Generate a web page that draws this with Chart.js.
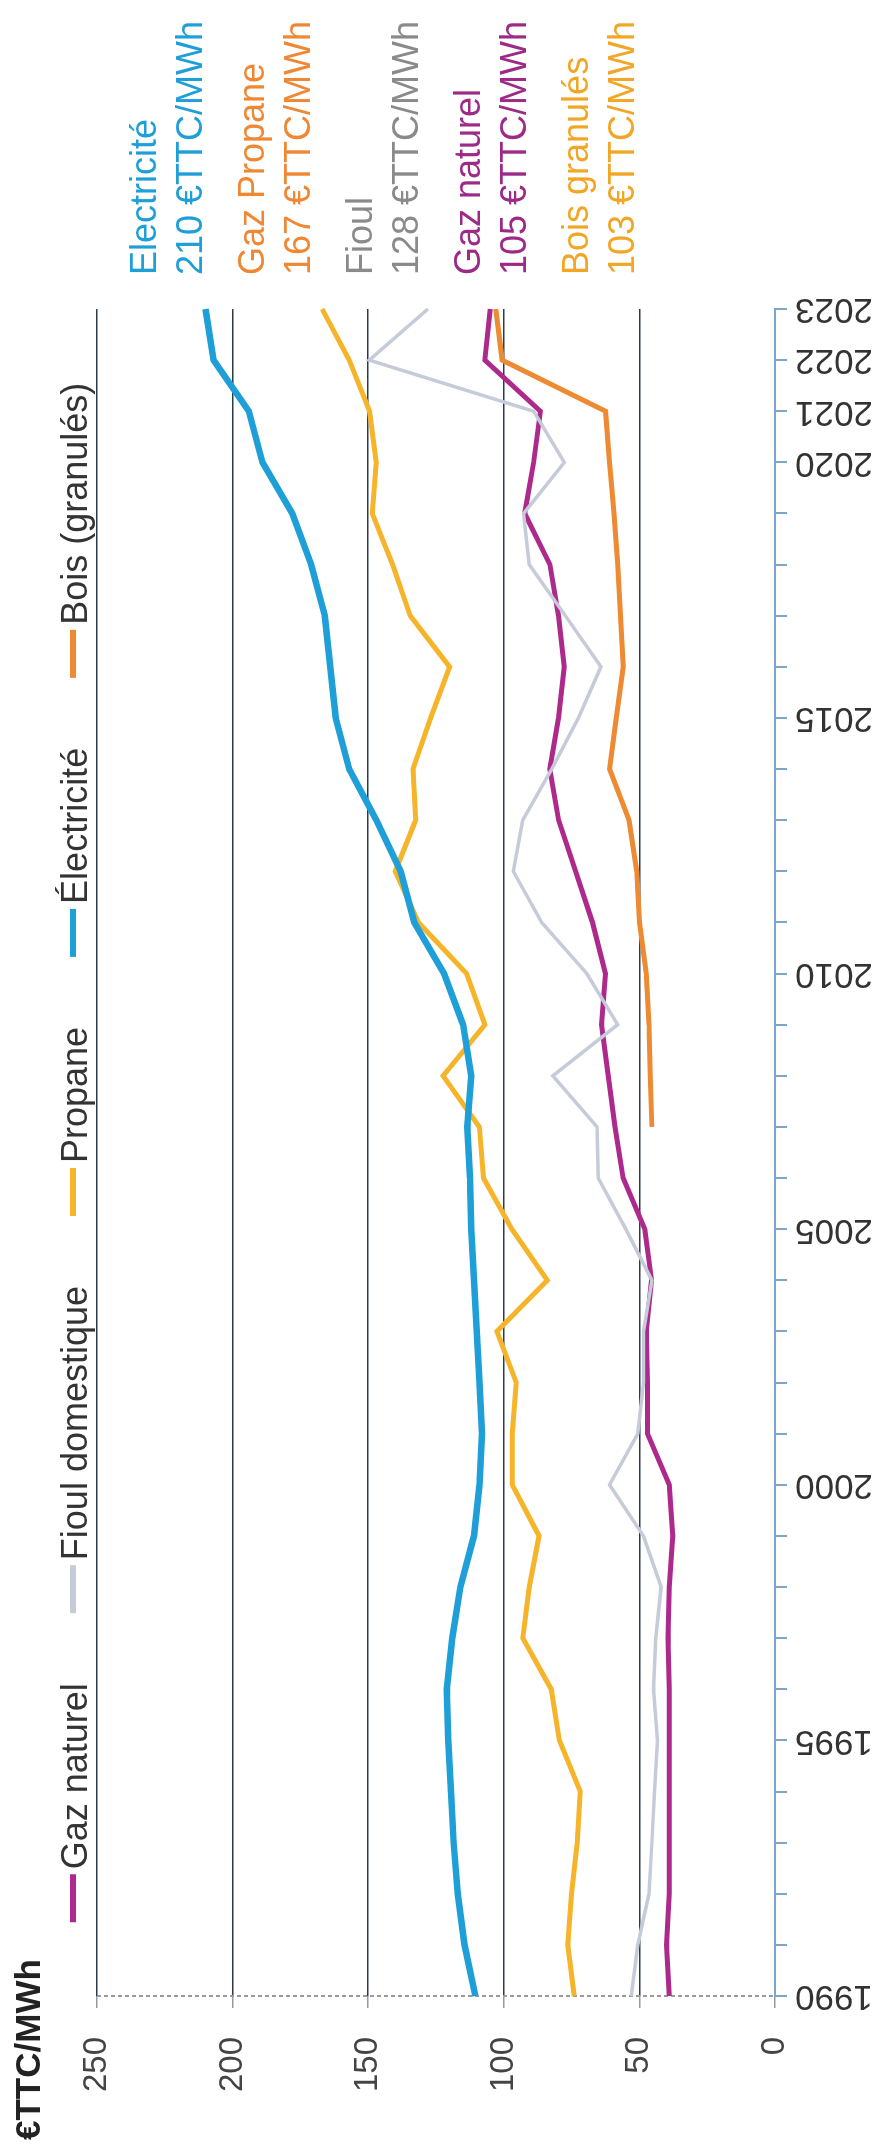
<!DOCTYPE html>
<html lang="fr">
<head>
<meta charset="utf-8">
<title>Prix des énergies 1990-2023</title>
<script src="https://cdn.jsdelivr.net/npm/chart.js@4.4.1/dist/chart.umd.min.js"></script>
<style>
  html, body { margin: 0; padding: 0; width: 885px; height: 2152px; overflow: hidden; background: #fff; }
  /* the chart is drawn landscape, then turned a quarter left like the scan */
  #wrap { position: absolute; left: 0; top: 0; width: 2152px; height: 885px;
          transform-origin: 0 0; transform: translate(0, 2152px) rotate(-90deg); }
</style>
</head>
<body>
<div id="wrap"><canvas id="chart" width="2152" height="885"></canvas></div>
<script>
// Data (€TTC/MWh)
const years = [1990, 1991, 1992, 1993, 1994, 1995, 1996, 1997, 1998, 1999,
               2000, 2001, 2002, 2003, 2004, 2005, 2006, 2007, 2008, 2009,
               2010, 2011, 2012, 2013, 2014, 2015, 2016, 2017, 2018, 2019,
               2020, 2021, 2022, 2023];
const labeledYears = [1990, 1995, 2000, 2005, 2010, 2015, 2020, 2021, 2022, 2023];

const gazNaturel = [39, 40, 39, 39, 39, 39, 39, 39.5, 39, 37.7,
                    39, 47, 47, 47.5, 45.5, 48, 56, 59, 61.5, 64,
                    62.5, 67.3, 73.5, 79.8, 83, 79.8, 77.7, 79.8, 83, 92.3,
                    89, 86.5, 107, 105];
const fioul = [53, 50.6, 46.5, 45.4, 44.4, 43.3, 44.8, 44, 42, 48.5,
               61, 50.6, 48.5, 48.5, 45.4, 55, 65.2, 65.6, 81.9, 58,
               69.4, 86, 96.5, 93, 82.3, 72.5, 64.2, 77.3, 90.6, 92.7,
               77.7, 89, 149.6, 128];
const propane = [74, 76.4, 75, 72.9, 71.8, 79.5, 82.5, 93, 90.6, 87,
                 96.9, 96.9, 95.4, 102.5, 84, 97, 107.5, 109, 122.4, 107,
                 113.7, 131.5, 140, 132.5, 133.5, 127, 120, 134.5, 141, 148.5,
                 147, 149.5, 157, 167];
const electricite = [110.5, 114.5, 117, 118.5, 119.5, 120.5, 121, 119, 116, 111,
                     109, 108, 109, 110, 111, 112, 112.5, 113.5, 112, 115,
                     122, 133, 138, 147, 157, 162, 164, 166, 171, 178,
                     189, 194, 207, 210];
const bois = [null, null, null, null, null, null, null, null, null, null,
              null, null, null, null, null, null, null, 45.4, 46, 46.5,
              47.5, 50, 51, 53.8, 61, 58.5, 56, 57, 58, 59.4,
              61, 62.5, 100.6, 103];

const seriesNames = ['Gaz naturel', 'Fioul domestique', 'Propane', 'Électricité', 'Bois (granulés)'];
const unitTitle = '€TTC/MWh';

// 2023 labels on the right
const endNames = ['Electricité', 'Gaz Propane', 'Fioul', 'Gaz naturel', 'Bois granulés'];
const endValues = [210, 167, 128, 105, 103];

const FONT = '"Liberation Sans", Arial, sans-serif';
const lineColors = ['#ad2a8c', '#c6cbd9', '#f6b42a', '#1e9fd8', '#ee8a32'];
const lineWidths = [5, 3.5, 5, 6.5, 5];
const endColors = ['#1e9fd8', '#ef8733', '#8a8a8a', '#9c2a86', '#f2a626'];

// dotted value axis, legend, unit title and end labels
const textPlugin = {
    id: 'texts',
    beforeDatasetsDraw(chart) {
        const c = chart.ctx;
        const area = chart.chartArea;
        c.save();
        c.strokeStyle = '#9a9a9a';
        c.lineWidth = 2;
        c.setLineDash([4, 3]);
        c.beginPath();
        c.moveTo(area.left, area.top);
        c.lineTo(area.left, area.bottom);
        c.stroke();
        c.restore();
    },
    afterDraw(chart) {
        const c = chart.ctx;
        const area = chart.chartArea;
        c.save();
        c.textAlign = 'left';
        c.textBaseline = 'alphabetic';

        c.font = 'bold 35px ' + FONT;
        c.fillStyle = '#222';
        c.fillText(unitTitle, 12, 40);

        // legend centred over the plot
        c.font = '36px ' + FONT;
        const mark = 48, gap = 5, space = 70;
        const widths = seriesNames.map(n => c.measureText(n).width);
        let total = space * (seriesNames.length - 1);
        widths.forEach(w => { total += mark + gap + w; });
        let x = (area.left + area.right) / 2 - total / 2;
        chart.data.datasets.forEach((ds, i) => {
            c.strokeStyle = ds.borderColor;
            c.lineWidth = 6;
            c.beginPath();
            c.moveTo(x, 73);
            c.lineTo(x + mark, 73);
            c.stroke();
            c.fillStyle = '#333';
            c.fillText(ds.label, x + mark + gap, 87);
            x += mark + gap + widths[i] + space;
        });

        // values reached in 2023
        c.font = '36px ' + FONT;
        endNames.forEach((name, i) => {
            const base = 156 + i * 108;
            c.fillStyle = endColors[i];
            c.fillText(name, area.right + 34, base);
            c.fillText(endValues[i] + ' €TTC/MWh', area.right + 34, base + 46);
        });
        c.restore();
    }
};

const series = [gazNaturel, fioul, propane, electricite, bois];

new Chart(document.getElementById('chart'), {
    type: 'line',
    data: {
        labels: years,
        datasets: series.map((d, i) => ({
            label: seriesNames[i],
            data: d,
            borderColor: lineColors[i],
            backgroundColor: lineColors[i],
            borderWidth: lineWidths[i],
            pointRadius: 0,
            tension: 0,
            fill: false,
            order: series.length - i
        }))
    },
    options: {
        responsive: false,
        animation: false,
        layout: { padding: { left: 0, right: 309, top: 97, bottom: 10 } },
        plugins: {
            legend: { display: false },
            tooltip: { enabled: false }
        },
        scales: {
            x: {
                type: 'category',
                offset: false,
                grid: { drawOnChartArea: false, tickLength: 12, color: '#7fa6c9', lineWidth: 2 },
                border: { color: '#7fa6c9', width: 2 },
                ticks: {
                    autoSkip: false,
                    minRotation: 90,
                    maxRotation: 90,
                    padding: 8,
                    color: '#333',
                    font: { family: FONT, size: 35 },
                    callback: (val, i) => labeledYears.includes(years[i]) ? String(years[i]) : ''
                },
                afterFit: s => { s.height = 100; }
            },
            y: {
                min: 0,
                max: 250,
                ticks: { stepSize: 50, padding: 29, color: '#444', font: { family: FONT, size: 33 } },
                grid: {
                    color: ctx => ctx.tick && ctx.tick.value === 0 ? 'rgba(0,0,0,0)' : '#2c3b4c',
                    lineWidth: 1.5,
                    tickLength: 12,
                    tickColor: '#999'
                },
                border: { display: false },
                afterFit: s => { s.width = 156; }
            }
        }
    },
    plugins: [textPlugin]
});
</script>
</body>
</html>
